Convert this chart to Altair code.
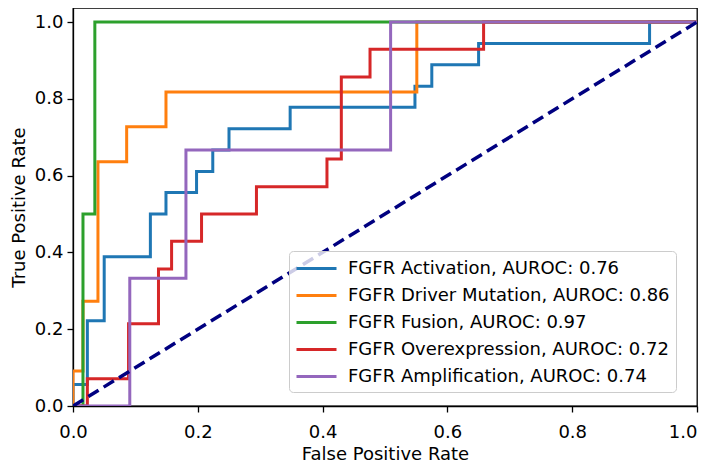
import altair as alt
import pandas as pd

# ---- data ----
series_names = ["FGFR Activation", "FGFR Driver Mutation", "FGFR Fusion",
                "FGFR Overexpression", "FGFR Amplification"]
auroc = ["0.76", "0.86", "0.97", "0.72", "0.74"]
colors = ["#1f77b4", "#ff7f0e", "#2ca02c", "#d62728", "#9467bd"]

act_fpr = [0, 0, 0.023, 0.023, 0.05, 0.05, 0.124, 0.124, 0.149, 0.149, 0.198, 0.198,
           0.224, 0.224, 0.25, 0.25, 0.348, 0.348, 0.548, 0.548, 0.575, 0.575,
           0.65, 0.65, 0.924, 0.924, 1.0]
act_tpr = [0, 0.056, 0.056, 0.222, 0.222, 0.389, 0.389, 0.5, 0.5, 0.556, 0.556, 0.611,
           0.611, 0.667, 0.667, 0.722, 0.722, 0.778, 0.778, 0.833, 0.833, 0.889,
           0.889, 0.944, 0.944, 1.0, 1.0]

drv_fpr = [0, 0, 0.016, 0.016, 0.04, 0.04, 0.086, 0.086, 0.149, 0.149, 0.551, 0.551, 1.0]
drv_tpr = [0, 0.091, 0.091, 0.273, 0.273, 0.636, 0.636, 0.727, 0.727, 0.818, 0.818, 1.0, 1.0]

fus_fpr = [0, 0.016, 0.016, 0.035, 0.035, 1.0]
fus_tpr = [0, 0, 0.5, 0.5, 1.0, 1.0]

ovr_fpr = [0, 0.023, 0.023, 0.089, 0.089, 0.137, 0.137, 0.158, 0.158, 0.206, 0.206,
           0.294, 0.294, 0.407, 0.407, 0.43, 0.43, 0.476, 0.476, 0.658, 0.658, 1.0]
ovr_tpr = [0, 0, 0.071, 0.071, 0.214, 0.214, 0.357, 0.357, 0.429, 0.429, 0.5,
           0.5, 0.571, 0.571, 0.643, 0.643, 0.857, 0.857, 0.929, 0.929, 1.0, 1.0]

amp_fpr = [0, 0.091, 0.091, 0.181, 0.181, 0.509, 0.509, 1.0]
amp_tpr = [0, 0, 0.333, 0.333, 0.667, 0.667, 1.0, 1.0]

diag_fpr = [0, 1]
diag_tpr = [0, 1]

ticks = [0, 0.2, 0.4, 0.6, 0.8, 1.0]

# ---- build chart ----
all_fpr = [act_fpr, drv_fpr, fus_fpr, ovr_fpr, amp_fpr]
all_tpr = [act_tpr, drv_tpr, fus_tpr, ovr_tpr, amp_tpr]
labels = [f"{n}, AUROC: {a}" for n, a in zip(series_names, auroc)]

FONT = "DejaVu Sans"

x_scale = alt.Scale(domain=[0, 1], nice=False, zero=False)
y_scale = alt.Scale(domain=[0, 1.0365], nice=False, zero=False)
x_axis = alt.Axis(title="False Positive Rate", values=ticks, format=".1f", labelFlush=False,
                  labelAlign={"expr": "datum.value >= 1 ? 'right' : 'center'"})
y_axis = alt.Axis(title="True Positive Rate", values=ticks, format=".1f", labelFlush=False)

legend = alt.Legend(
    title=None, orient="none", legendX=216, legendY=243,
    symbolType="M-1,0H3", symbolSize=400, symbolStrokeWidth=3,
    labelFontSize=18, labelFont=FONT, labelColor="black", labelOffset=30,
    labelLimit=0, fillColor="rgba(255,255,255,0.8)", strokeColor="#cccccc",
    cornerRadius=4, padding=6, rowPadding=6,
)

layers = []
for lab, fpr, tpr in zip(labels, all_fpr, all_tpr):
    d = pd.DataFrame({"fpr": fpr, "tpr": tpr, "order": list(range(len(fpr))),
                      "series": [lab] * len(fpr)})
    layers.append(
        alt.Chart(d).mark_line(strokeWidth=3, clip=True).encode(
            x=alt.X("fpr:Q", scale=x_scale, axis=x_axis),
            y=alt.Y("tpr:Q", scale=y_scale, axis=y_axis),
            color=alt.Color("series:N", scale=alt.Scale(domain=labels, range=colors),
                            legend=legend),
            order="order:Q",
        )
    )

diag = alt.Chart(pd.DataFrame({"fpr": diag_fpr, "tpr": diag_tpr})).mark_line(
    color="navy", strokeWidth=3.5, strokeDash=[12, 6], clip=True
).encode(x=alt.X("fpr:Q", scale=x_scale, axis=x_axis),
         y=alt.Y("tpr:Q", scale=y_scale, axis=y_axis))

chart = alt.layer(*layers, diag).properties(
    width=624, height=398,
    autosize=alt.AutoSizeParams(type="none"),
    padding={"left": 65, "top": 0, "right": 4, "bottom": 57},
).configure_view(
    stroke="black", strokeWidth=1.3
).configure_axis(
    grid=False, domainColor="black", domainWidth=1.3, tickColor="black",
    tickWidth=1.3, tickSize=6, labelFont=FONT, labelFontSize=18, labelColor="black",
    titleFont=FONT, titleFontSize=18, titleFontWeight="normal",
    titleColor="black",
).configure_axisX(labelPadding=11, titlePadding=4).configure_axisY(
    labelPadding=4, titlePadding=6)

chart.save("out.html", embed_options={"renderer": "svg", "actions": False})
